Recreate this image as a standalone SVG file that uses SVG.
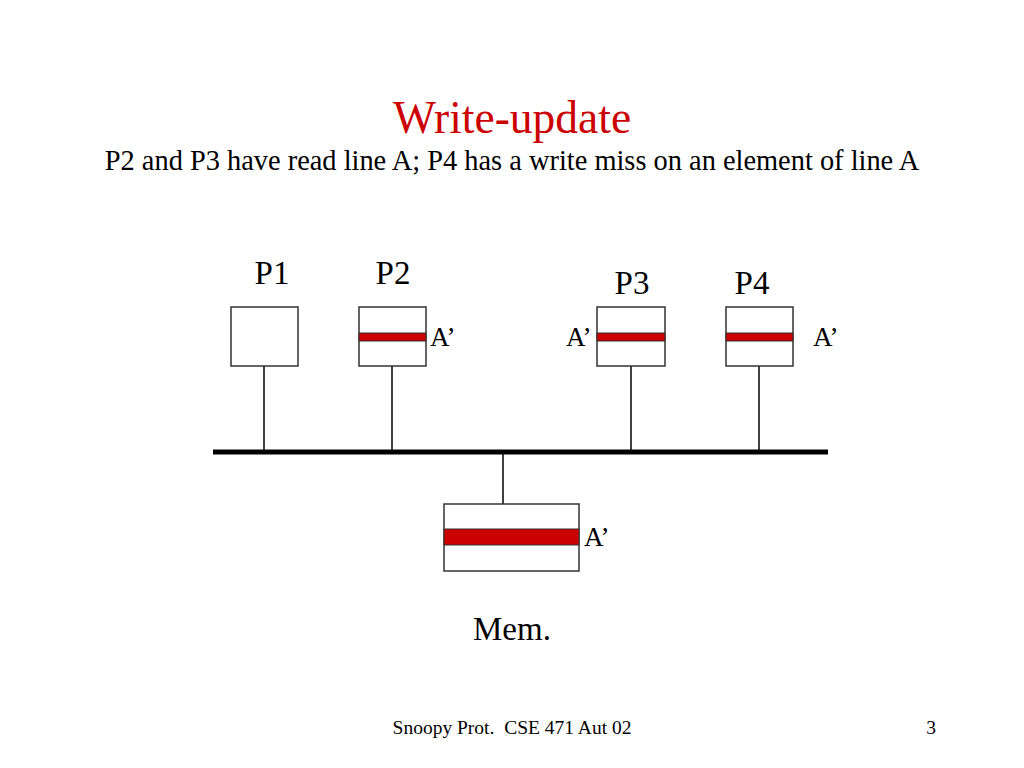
<svg xmlns="http://www.w3.org/2000/svg" width="1024" height="768" viewBox="0 0 1024 768">
<style>
text{font-family:"Liberation Serif","Times New Roman",serif;fill:#000}
.title{font-size:45.5px;fill:#cc0000}
.sub{font-size:28.4px}
.lbl{font-size:33px}
.a{font-size:27px}
.foot{font-size:19.5px;white-space:pre}
.box{fill:#fff;stroke:#333;stroke-width:1.5}
.band{fill:#cc0000;stroke:#333;stroke-width:1}
.wire{stroke:#000;stroke-width:1.5}
</style>
<rect width="1024" height="768" fill="#fff"/>
<text class="title" x="512" y="133" text-anchor="middle">Write-update</text>
<text class="sub" x="512" y="170" text-anchor="middle">P2 and P3 have read line A; P4 has a write miss on an element of line A</text>
<g id="connectors">
<line x1="213" y1="452" x2="828" y2="452" stroke="#000" stroke-width="5"/>
<line class="wire" x1="264" y1="366" x2="264" y2="452"/>
<line class="wire" x1="392" y1="366" x2="392" y2="452"/>
<line class="wire" x1="631" y1="366" x2="631" y2="452"/>
<line class="wire" x1="759" y1="366" x2="759" y2="452"/>
<line class="wire" x1="503" y1="452" x2="503" y2="504"/>
</g>
<g id="P1">
<text class="lbl" x="272" y="284" text-anchor="middle">P1</text>
<rect class="box" x="231" y="307" width="67" height="59"/>
</g>
<g id="P2">
<text class="lbl" x="393" y="284" text-anchor="middle">P2</text>
<rect class="box" x="359" y="307" width="67" height="59"/>
<rect class="band" x="359" y="333" width="67" height="8"/>
<text class="a" x="430" y="346">A’</text>
</g>
<g id="P3">
<text class="lbl" x="632" y="294" text-anchor="middle">P3</text>
<rect class="box" x="597" y="307" width="68" height="59"/>
<rect class="band" x="597" y="333" width="68" height="8"/>
<text class="a" x="566" y="346">A’</text>
</g>
<g id="P4">
<text class="lbl" x="752" y="294" text-anchor="middle">P4</text>
<rect class="box" x="726" y="307" width="67" height="59"/>
<rect class="band" x="726" y="333" width="67" height="8"/>
<text class="a" x="813" y="346">A’</text>
</g>
<g id="Mem">
<rect class="box" x="444" y="504" width="135" height="67"/>
<rect class="band" x="444" y="529" width="135" height="16"/>
<text class="a" x="584" y="546">A’</text>
<text class="lbl" x="512" y="640" text-anchor="middle">Mem.</text>
</g>
<text class="foot" x="512" y="734" text-anchor="middle" xml:space="preserve">Snoopy Prot.  CSE 471 Aut 02</text>
<text class="foot" x="931" y="734" text-anchor="middle">3</text>
</svg>
